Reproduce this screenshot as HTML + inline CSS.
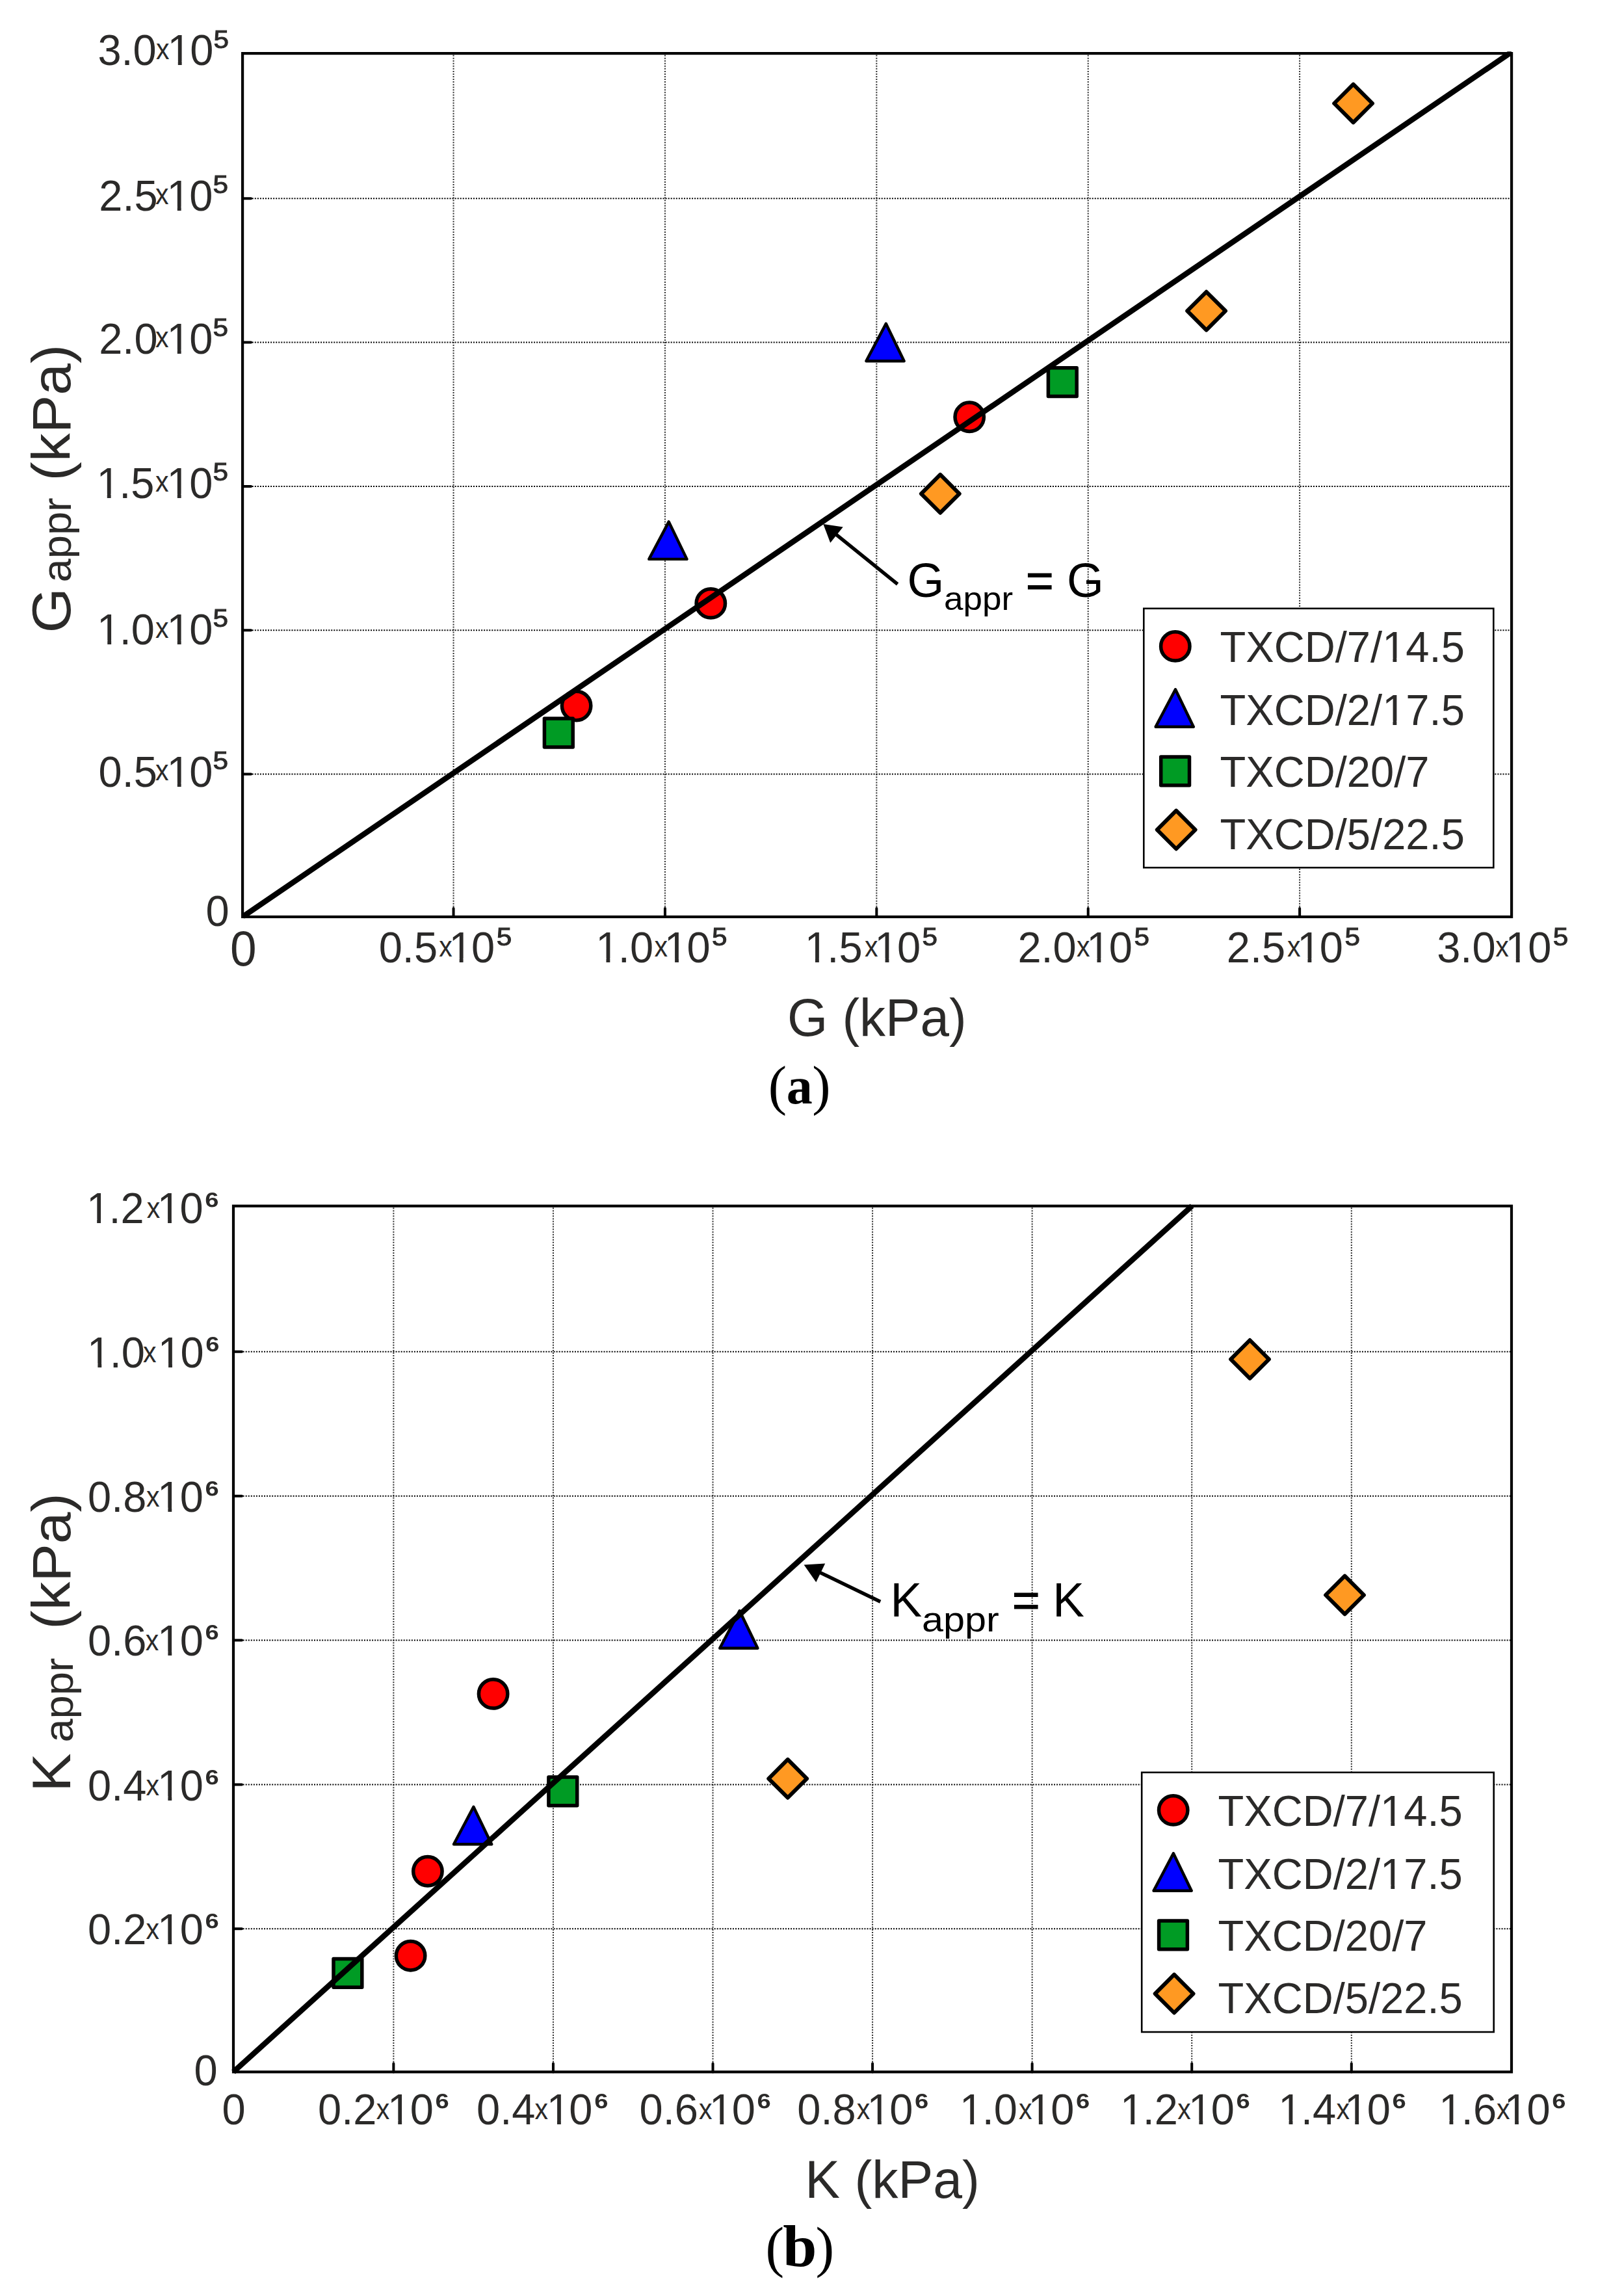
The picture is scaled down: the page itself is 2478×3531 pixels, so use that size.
<!DOCTYPE html>
<html lang="en"><head><meta charset="utf-8"><title>Figure: G and K approximations</title>
<style>
html,body{margin:0;padding:0;background:#fff}
svg{display:block}
text{font-family:"Liberation Sans",sans-serif;white-space:pre}
text.sf{font-family:"Liberation Serif",serif}
</style></head>
<body>
<svg width="2478" height="3531" viewBox="0 0 2478 3531">
<rect width="2478" height="3531" fill="#fff"/>
<path d="M697.55 84.6V1409.0M1022.94 84.6V1409.0M1348.33 84.6V1409.0M1673.72 84.6V1409.0M1999.11 84.6V1409.0" stroke="#2e2e2e" stroke-width="2" stroke-dasharray="2 2.05" fill="none"/>
<path d="M375.6 305.23H2324.1M375.6 526.56H2324.1M375.6 747.89H2324.1M375.6 969.22H2324.1M375.6 1190.55H2324.1" stroke="#000" stroke-width="2" stroke-dasharray="2 2.05" fill="none"/>
<circle cx="886.6" cy="1085.5" r="22.2" fill="#FF0000" stroke="#000" stroke-width="5.5"/>
<circle cx="1093.3" cy="927.9" r="22.2" fill="#FF0000" stroke="#000" stroke-width="5.5"/>
<circle cx="1491.2" cy="641.3" r="22.2" fill="#FF0000" stroke="#000" stroke-width="5.5"/>
<path d="M1028.7 802.4L1056.5 859.9L998.3 859.9Z" fill="#0000FF" stroke="#000" stroke-width="4.4" stroke-linejoin="round"/>
<path d="M1362.8 497.8L1390.6 555.3L1332.4 555.3Z" fill="#0000FF" stroke="#000" stroke-width="4.4" stroke-linejoin="round"/>
<rect x="837.4" y="1105.1" width="43.8" height="43.8" fill="#009B24" stroke="#000" stroke-width="5.5" stroke-linejoin="round"/>
<rect x="1612.4" y="565.8" width="43.8" height="43.8" fill="#009B24" stroke="#000" stroke-width="5.5" stroke-linejoin="round"/>
<path d="M1446.3 729.9L1475.7 759.3L1446.3 788.7L1416.9 759.3Z" fill="#FF9922" stroke="#000" stroke-width="6.0" stroke-linejoin="round"/>
<path d="M1855.6 448.8L1885.0 478.2L1855.6 507.6L1826.2 478.2Z" fill="#FF9922" stroke="#000" stroke-width="6.0" stroke-linejoin="round"/>
<path d="M2081.6 129.6L2111.0 159.0L2081.6 188.4L2052.2 159.0Z" fill="#FF9922" stroke="#000" stroke-width="6.0" stroke-linejoin="round"/>
<clipPath id="ca"><rect x="371.0" y="79.3" width="1956.2" height="1332.9"/></clipPath>
<line x1="373.1" y1="1410.0" x2="2325.1" y2="79.89999999999999" stroke="#000" stroke-width="8.5" clip-path="url(#ca)"/>
<rect x="373.1" y="82.1" width="1952.0" height="1327.9" fill="none" stroke="#000" stroke-width="4.2"/>
<path d="M697.55 1410.0v-13M1022.94 1410.0v-13M1348.33 1410.0v-13M1673.72 1410.0v-13M1999.11 1410.0v-13M373.1 305.23h13M373.1 526.56h13M373.1 747.89h13M373.1 969.22h13M373.1 1190.55h13" stroke="#000" stroke-width="4" stroke-linecap="round" fill="none"/>
<line x1="1380.6" y1="898.3" x2="1283.8" y2="820.1" stroke="#000" stroke-width="5.4"/>
<path d="M1266.3 806.0L1296.7 810.6L1277.2 834.7Z" fill="#000"/>
<g><text transform="translate(1395.50,917.70) scale(1.0,1.015)" font-size="73" fill="#000">G</text><text transform="translate(1452.00,938.20) scale(1.0,0.93)" font-size="53" fill="#000">appr</text> <text transform="translate(1578.00,917.70) scale(1.0,1.015)" font-size="73" fill="#000" stroke="#000" stroke-width="1.2">=</text> <text transform="translate(1640.90,917.70) scale(1.0,1.015)" font-size="73" fill="#000">G</text></g>
<rect x="1759.3" y="935.8" width="538" height="398.5" fill="#fff" stroke="#000" stroke-width="2.6"/>
<circle cx="1807.8" cy="993.9" r="22.2" fill="#FF0000" stroke="#000" stroke-width="5.5"/>
<path d="M1808.0 1060.3L1835.8 1117.8L1777.6 1117.8Z" fill="#0000FF" stroke="#000" stroke-width="4.4" stroke-linejoin="round"/>
<rect x="1785.7" y="1163.9" width="43.8" height="43.8" fill="#009B24" stroke="#000" stroke-width="5.5" stroke-linejoin="round"/>
<path d="M1809.2 1246.7L1838.6 1276.1L1809.2 1305.5L1779.8 1276.1Z" fill="#FF9922" stroke="#000" stroke-width="6.0" stroke-linejoin="round"/>
<text transform="translate(1876.60,1018.00) scale(1.0,1.015)" font-size="65.1" fill="#2B2A29">TXCD/7/14.5</text>
<text transform="translate(1876.60,1114.50) scale(1.0,1.015)" font-size="65.1" fill="#2B2A29">TXCD/2/17.5</text>
<text transform="translate(1876.60,1210.00) scale(1.0,1.015)" font-size="65.1" fill="#2B2A29">TXCD/20/7</text>
<text transform="translate(1876.60,1306.00) scale(1.0,1.015)" font-size="65.1" fill="#2B2A29">TXCD/5/22.5</text>
<g><text transform="translate(150.40,100.30) scale(1.0,1.015)" font-size="65" fill="#2B2A29">3.0</text><text transform="translate(240.00,90.80) scale(1.0,1.08)" font-size="41" fill="#2B2A29">x</text><text transform="translate(257.50,100.30) scale(1.0,1.015)" font-size="65" fill="#2B2A29">1</text><text transform="translate(292.14,100.30) scale(1.0,1.015)" font-size="65" fill="#2B2A29">0</text><text transform="translate(326.78,90.70)" font-size="66.5" fill="#2B2A29" stroke="#2B2A29" stroke-width="1.1">⁵</text></g>
<g><text transform="translate(152.30,323.90) scale(1.0,1.015)" font-size="65" fill="#2B2A29">2.5</text><text transform="translate(239.00,314.40) scale(1.0,1.08)" font-size="41" fill="#2B2A29">x</text><text transform="translate(256.50,323.90) scale(1.0,1.015)" font-size="65" fill="#2B2A29">1</text><text transform="translate(291.14,323.90) scale(1.0,1.015)" font-size="65" fill="#2B2A29">0</text><text transform="translate(325.78,314.30)" font-size="66.5" fill="#2B2A29" stroke="#2B2A29" stroke-width="1.1">⁵</text></g>
<g><text transform="translate(152.20,543.90) scale(1.0,1.015)" font-size="65" fill="#2B2A29">2.0</text><text transform="translate(239.00,534.40) scale(1.0,1.08)" font-size="41" fill="#2B2A29">x</text><text transform="translate(256.50,543.90) scale(1.0,1.015)" font-size="65" fill="#2B2A29">1</text><text transform="translate(291.14,543.90) scale(1.0,1.015)" font-size="65" fill="#2B2A29">0</text><text transform="translate(325.78,534.30)" font-size="66.5" fill="#2B2A29" stroke="#2B2A29" stroke-width="1.1">⁵</text></g>
<g><text transform="translate(148.50,765.60) scale(1.0,1.015)" font-size="65" fill="#2B2A29">1</text><text transform="translate(183.14,765.60) scale(1.0,1.015)" font-size="65" fill="#2B2A29">.5</text><text transform="translate(239.00,756.10) scale(1.0,1.08)" font-size="41" fill="#2B2A29">x</text><text transform="translate(256.50,765.60) scale(1.0,1.015)" font-size="65" fill="#2B2A29">1</text><text transform="translate(291.14,765.60) scale(1.0,1.015)" font-size="65" fill="#2B2A29">0</text><text transform="translate(325.78,756.00)" font-size="66.5" fill="#2B2A29" stroke="#2B2A29" stroke-width="1.1">⁵</text></g>
<g><text transform="translate(149.00,990.90) scale(1.0,1.015)" font-size="65" fill="#2B2A29">1</text><text transform="translate(183.64,990.90) scale(1.0,1.015)" font-size="65" fill="#2B2A29">.0</text><text transform="translate(239.00,981.40) scale(1.0,1.08)" font-size="41" fill="#2B2A29">x</text><text transform="translate(256.50,990.90) scale(1.0,1.015)" font-size="65" fill="#2B2A29">1</text><text transform="translate(291.14,990.90) scale(1.0,1.015)" font-size="65" fill="#2B2A29">0</text><text transform="translate(325.78,981.30)" font-size="66.5" fill="#2B2A29" stroke="#2B2A29" stroke-width="1.1">⁵</text></g>
<g><text transform="translate(151.50,1209.80) scale(1.0,1.015)" font-size="65" fill="#2B2A29">0.5</text><text transform="translate(239.00,1200.30) scale(1.0,1.08)" font-size="41" fill="#2B2A29">x</text><text transform="translate(256.50,1209.80) scale(1.0,1.015)" font-size="65" fill="#2B2A29">1</text><text transform="translate(291.14,1209.80) scale(1.0,1.015)" font-size="65" fill="#2B2A29">0</text><text transform="translate(325.78,1200.20)" font-size="66.5" fill="#2B2A29" stroke="#2B2A29" stroke-width="1.1">⁵</text></g>
<text transform="translate(316.60,1424.40) scale(1.0,1.015)" font-size="65" fill="#2B2A29">0</text>
<g><text transform="translate(582.70,1480.10) scale(1.0,1.015)" font-size="65" fill="#2B2A29">0.5</text><text transform="translate(675.20,1470.60) scale(1.0,1.08)" font-size="41" fill="#2B2A29">x</text><text transform="translate(690.40,1480.10) scale(1.0,1.015)" font-size="65" fill="#2B2A29">1</text><text transform="translate(725.04,1480.10) scale(1.0,1.015)" font-size="65" fill="#2B2A29">0</text><text transform="translate(761.88,1470.50)" font-size="66.5" fill="#2B2A29" stroke="#2B2A29" stroke-width="1.1">⁵</text></g>
<g><text transform="translate(916.20,1480.10) scale(1.0,1.015)" font-size="65" fill="#2B2A29">1</text><text transform="translate(950.84,1480.10) scale(1.0,1.015)" font-size="65" fill="#2B2A29">.0</text><text transform="translate(1006.60,1470.60) scale(1.0,1.08)" font-size="41" fill="#2B2A29">x</text><text transform="translate(1021.80,1480.10) scale(1.0,1.015)" font-size="65" fill="#2B2A29">1</text><text transform="translate(1056.44,1480.10) scale(1.0,1.015)" font-size="65" fill="#2B2A29">0</text><text transform="translate(1093.28,1470.50)" font-size="66.5" fill="#2B2A29" stroke="#2B2A29" stroke-width="1.1">⁵</text></g>
<g><text transform="translate(1237.70,1480.10) scale(1.0,1.015)" font-size="65" fill="#2B2A29">1</text><text transform="translate(1272.34,1480.10) scale(1.0,1.015)" font-size="65" fill="#2B2A29">.5</text><text transform="translate(1330.10,1470.60) scale(1.0,1.08)" font-size="41" fill="#2B2A29">x</text><text transform="translate(1345.30,1480.10) scale(1.0,1.015)" font-size="65" fill="#2B2A29">1</text><text transform="translate(1379.94,1480.10) scale(1.0,1.015)" font-size="65" fill="#2B2A29">0</text><text transform="translate(1416.78,1470.50)" font-size="66.5" fill="#2B2A29" stroke="#2B2A29" stroke-width="1.1">⁵</text></g>
<g><text transform="translate(1565.40,1480.10) scale(1.0,1.015)" font-size="65" fill="#2B2A29">2.0</text><text transform="translate(1656.00,1470.60) scale(1.0,1.08)" font-size="41" fill="#2B2A29">x</text><text transform="translate(1671.20,1480.10) scale(1.0,1.015)" font-size="65" fill="#2B2A29">1</text><text transform="translate(1705.84,1480.10) scale(1.0,1.015)" font-size="65" fill="#2B2A29">0</text><text transform="translate(1742.68,1470.50)" font-size="66.5" fill="#2B2A29" stroke="#2B2A29" stroke-width="1.1">⁵</text></g>
<g><text transform="translate(1886.80,1480.10) scale(1.0,1.015)" font-size="65" fill="#2B2A29">2.5</text><text transform="translate(1980.00,1470.60) scale(1.0,1.08)" font-size="41" fill="#2B2A29">x</text><text transform="translate(1995.20,1480.10) scale(1.0,1.015)" font-size="65" fill="#2B2A29">1</text><text transform="translate(2029.84,1480.10) scale(1.0,1.015)" font-size="65" fill="#2B2A29">0</text><text transform="translate(2066.68,1470.50)" font-size="66.5" fill="#2B2A29" stroke="#2B2A29" stroke-width="1.1">⁵</text></g>
<g><text transform="translate(2210.20,1480.10) scale(1.0,1.015)" font-size="65" fill="#2B2A29">3.0</text><text transform="translate(2300.30,1470.60) scale(1.0,1.08)" font-size="41" fill="#2B2A29">x</text><text transform="translate(2315.50,1480.10) scale(1.0,1.015)" font-size="65" fill="#2B2A29">1</text><text transform="translate(2350.14,1480.10) scale(1.0,1.015)" font-size="65" fill="#2B2A29">0</text><text transform="translate(2386.98,1470.50)" font-size="66.5" fill="#2B2A29" stroke="#2B2A29" stroke-width="1.1">⁵</text></g>
<text transform="translate(353.90,1484.80) scale(1.0,1.04)" font-size="73" fill="#2B2A29">0</text>
<text transform="translate(1211.00,1593.30) scale(1.0,1.015)" font-size="80" fill="#2B2A29">G (kPa)</text>
<g><text transform="translate(107.50,973.50) rotate(-90) scale(1.09,1.015)" font-size="82" fill="#2B2A29">G</text><text transform="translate(109.30,895.40) rotate(-90) scale(1.0,0.96)" font-size="65" fill="#2B2A29">appr</text> <text transform="translate(107.50,739.40) rotate(-90) scale(1.07,1.015)" font-size="82" fill="#2B2A29">(kPa)</text></g>
<g><text transform="translate(1181.70,1697.50)" font-size="85" fill="#000" class="sf">(</text><text transform="translate(1209.80,1697.30)" font-size="80" fill="#000" font-weight="bold" class="sf">a</text><text transform="translate(1249.20,1697.50)" font-size="85" fill="#000" class="sf">)</text></g>
<path d="M605.36 1857.2V3185.4M850.94 1857.2V3185.4M1096.51 1857.2V3185.4M1342.08 1857.2V3185.4M1587.65 1857.2V3185.4M1833.23 1857.2V3185.4M2078.80 1857.2V3185.4" stroke="#2e2e2e" stroke-width="2" stroke-dasharray="2 2.05" fill="none"/>
<path d="M361.5 2078.85H2324.0M361.5 2300.70H2324.0M361.5 2522.55H2324.0M361.5 2744.40H2324.0M361.5 2966.25H2324.0" stroke="#000" stroke-width="2" stroke-dasharray="2 2.05" fill="none"/>
<circle cx="758.6" cy="2604.9" r="22.2" fill="#FF0000" stroke="#000" stroke-width="5.5"/>
<circle cx="657.9" cy="2877.8" r="22.2" fill="#FF0000" stroke="#000" stroke-width="5.5"/>
<circle cx="631.6" cy="3007.7" r="22.2" fill="#FF0000" stroke="#000" stroke-width="5.5"/>
<path d="M728.4 2778.8L756.2 2836.3L698.0 2836.3Z" fill="#0000FF" stroke="#000" stroke-width="4.4" stroke-linejoin="round"/>
<path d="M1137.6 2477.3L1165.4 2534.8L1107.2 2534.8Z" fill="#0000FF" stroke="#000" stroke-width="4.4" stroke-linejoin="round"/>
<rect x="513.0" y="3012.4" width="43.8" height="43.8" fill="#009B24" stroke="#000" stroke-width="5.5" stroke-linejoin="round"/>
<rect x="843.9" y="2732.9" width="43.8" height="43.8" fill="#009B24" stroke="#000" stroke-width="5.5" stroke-linejoin="round"/>
<path d="M1211.7 2705.9L1241.1 2735.3L1211.7 2764.7L1182.3 2735.3Z" fill="#FF9922" stroke="#000" stroke-width="6.0" stroke-linejoin="round"/>
<path d="M1922.5 2061.0L1951.9 2090.4L1922.5 2119.8L1893.1 2090.4Z" fill="#FF9922" stroke="#000" stroke-width="6.0" stroke-linejoin="round"/>
<path d="M2068.5 2423.6L2097.9 2453.0L2068.5 2482.4L2039.1 2453.0Z" fill="#FF9922" stroke="#000" stroke-width="6.0" stroke-linejoin="round"/>
<line x1="359.0" y1="3186.4" x2="1833.5" y2="1854.7" stroke="#000" stroke-width="8.5"/>
<rect x="359.0" y="1854.7" width="1966.0" height="1331.7" fill="none" stroke="#000" stroke-width="4.2"/>
<path d="M605.36 3186.4v-13M850.94 3186.4v-13M1096.51 3186.4v-13M1342.08 3186.4v-13M1587.65 3186.4v-13M1833.23 3186.4v-13M2078.80 3186.4v-13M359.0 2078.85h13M359.0 2300.70h13M359.0 2522.55h13M359.0 2744.40h13M359.0 2966.25h13" stroke="#000" stroke-width="4" stroke-linecap="round" fill="none"/>
<line x1="1354.2" y1="2463.3" x2="1258.7" y2="2417.1" stroke="#000" stroke-width="5.4"/>
<path d="M1236.6 2406.4L1269.2 2404.4L1255.3 2433.2Z" fill="#000"/>
<g><text transform="translate(1369.40,2485.80) scale(1.0,1.015)" font-size="73" fill="#000">K</text><text transform="translate(1417.90,2509.00) scale(1.08,0.97)" font-size="55" fill="#000">appr</text> <text transform="translate(1557.00,2485.80) scale(1.0,1.015)" font-size="73" fill="#000" stroke="#000" stroke-width="1.2">=</text> <text transform="translate(1619.20,2485.80) scale(1.0,1.015)" font-size="73" fill="#000">K</text></g>
<rect x="1756.2" y="2725.8" width="541.5" height="399.2" fill="#fff" stroke="#000" stroke-width="2.6"/>
<circle cx="1804.7" cy="2783.9" r="22.2" fill="#FF0000" stroke="#000" stroke-width="5.5"/>
<path d="M1804.9 2850.3L1832.7 2907.8L1774.5 2907.8Z" fill="#0000FF" stroke="#000" stroke-width="4.4" stroke-linejoin="round"/>
<rect x="1782.6" y="2953.9" width="43.8" height="43.8" fill="#009B24" stroke="#000" stroke-width="5.5" stroke-linejoin="round"/>
<path d="M1806.1 3036.7L1835.5 3066.1L1806.1 3095.5L1776.7 3066.1Z" fill="#FF9922" stroke="#000" stroke-width="6.0" stroke-linejoin="round"/>
<text transform="translate(1873.50,2808.00) scale(1.0,1.015)" font-size="65.1" fill="#2B2A29">TXCD/7/14.5</text>
<text transform="translate(1873.50,2904.50) scale(1.0,1.015)" font-size="65.1" fill="#2B2A29">TXCD/2/17.5</text>
<text transform="translate(1873.50,3000.00) scale(1.0,1.015)" font-size="65.1" fill="#2B2A29">TXCD/20/7</text>
<text transform="translate(1873.50,3096.00) scale(1.0,1.015)" font-size="65.1" fill="#2B2A29">TXCD/5/22.5</text>
<g><text transform="translate(132.90,1881.10) scale(1.0,1.015)" font-size="65" fill="#2B2A29">1</text><text transform="translate(167.54,1881.10) scale(1.0,1.015)" font-size="65" fill="#2B2A29">.2</text><text transform="translate(225.80,1873.10) scale(1.0,1.08)" font-size="41" fill="#2B2A29">x</text><text transform="translate(241.80,1881.10) scale(1.0,1.015)" font-size="65" fill="#2B2A29">1</text><text transform="translate(276.44,1881.10) scale(1.0,1.015)" font-size="65" fill="#2B2A29">0</text><text transform="translate(313.48,1873.40) scale(1.0,1.16)" font-size="54" fill="#2B2A29" font-weight="bold">⁶</text></g>
<g><text transform="translate(134.10,2103.00) scale(1.0,1.015)" font-size="65" fill="#2B2A29">1</text><text transform="translate(168.74,2103.00) scale(1.0,1.015)" font-size="65" fill="#2B2A29">.0</text><text transform="translate(219.90,2095.00) scale(1.0,1.08)" font-size="41" fill="#2B2A29">x</text><text transform="translate(242.80,2103.00) scale(1.0,1.015)" font-size="65" fill="#2B2A29">1</text><text transform="translate(277.44,2103.00) scale(1.0,1.015)" font-size="65" fill="#2B2A29">0</text><text transform="translate(314.48,2095.30) scale(1.0,1.16)" font-size="54" fill="#2B2A29" font-weight="bold">⁶</text></g>
<g><text transform="translate(135.10,2324.80) scale(1.0,1.015)" font-size="65" fill="#2B2A29">0.8</text><text transform="translate(224.90,2316.80) scale(1.0,1.08)" font-size="41" fill="#2B2A29">x</text><text transform="translate(242.10,2324.80) scale(1.0,1.015)" font-size="65" fill="#2B2A29">1</text><text transform="translate(276.74,2324.80) scale(1.0,1.015)" font-size="65" fill="#2B2A29">0</text><text transform="translate(313.78,2317.10) scale(1.0,1.16)" font-size="54" fill="#2B2A29" font-weight="bold">⁶</text></g>
<g><text transform="translate(135.10,2545.80) scale(1.0,1.015)" font-size="65" fill="#2B2A29">0.6</text><text transform="translate(223.70,2537.80) scale(1.0,1.08)" font-size="41" fill="#2B2A29">x</text><text transform="translate(242.10,2545.80) scale(1.0,1.015)" font-size="65" fill="#2B2A29">1</text><text transform="translate(276.74,2545.80) scale(1.0,1.015)" font-size="65" fill="#2B2A29">0</text><text transform="translate(313.78,2538.10) scale(1.0,1.16)" font-size="54" fill="#2B2A29" font-weight="bold">⁶</text></g>
<g><text transform="translate(135.10,2768.50) scale(1.0,1.015)" font-size="65" fill="#2B2A29">0.4</text><text transform="translate(224.60,2760.50) scale(1.0,1.08)" font-size="41" fill="#2B2A29">x</text><text transform="translate(242.10,2768.50) scale(1.0,1.015)" font-size="65" fill="#2B2A29">1</text><text transform="translate(276.74,2768.50) scale(1.0,1.015)" font-size="65" fill="#2B2A29">0</text><text transform="translate(313.78,2760.80) scale(1.0,1.16)" font-size="54" fill="#2B2A29" font-weight="bold">⁶</text></g>
<g><text transform="translate(135.10,2990.00) scale(1.0,1.015)" font-size="65" fill="#2B2A29">0.2</text><text transform="translate(224.60,2982.00) scale(1.0,1.08)" font-size="41" fill="#2B2A29">x</text><text transform="translate(242.10,2990.00) scale(1.0,1.015)" font-size="65" fill="#2B2A29">1</text><text transform="translate(276.74,2990.00) scale(1.0,1.015)" font-size="65" fill="#2B2A29">0</text><text transform="translate(313.78,2982.30) scale(1.0,1.16)" font-size="54" fill="#2B2A29" font-weight="bold">⁶</text></g>
<text transform="translate(298.50,3206.80) scale(1.0,1.015)" font-size="65" fill="#2B2A29">0</text>
<g><text transform="translate(489.10,3266.60) scale(1.0,1.015)" font-size="65" fill="#2B2A29">0.2</text><text transform="translate(578.70,3258.60) scale(1.0,1.08)" font-size="41" fill="#2B2A29">x</text><text transform="translate(596.00,3266.60) scale(1.0,1.015)" font-size="65" fill="#2B2A29">1</text><text transform="translate(630.64,3266.60) scale(1.0,1.015)" font-size="65" fill="#2B2A29">0</text><text transform="translate(667.68,3258.90) scale(1.0,1.16)" font-size="54" fill="#2B2A29" font-weight="bold">⁶</text></g>
<g><text transform="translate(733.00,3266.60) scale(1.0,1.015)" font-size="65" fill="#2B2A29">0.4</text><text transform="translate(822.60,3258.60) scale(1.0,1.08)" font-size="41" fill="#2B2A29">x</text><text transform="translate(840.70,3266.60) scale(1.0,1.015)" font-size="65" fill="#2B2A29">1</text><text transform="translate(875.34,3266.60) scale(1.0,1.015)" font-size="65" fill="#2B2A29">0</text><text transform="translate(912.38,3258.90) scale(1.0,1.16)" font-size="54" fill="#2B2A29" font-weight="bold">⁶</text></g>
<g><text transform="translate(983.50,3266.60) scale(1.0,1.015)" font-size="65" fill="#2B2A29">0.6</text><text transform="translate(1075.00,3258.60) scale(1.0,1.08)" font-size="41" fill="#2B2A29">x</text><text transform="translate(1091.10,3266.60) scale(1.0,1.015)" font-size="65" fill="#2B2A29">1</text><text transform="translate(1125.74,3266.60) scale(1.0,1.015)" font-size="65" fill="#2B2A29">0</text><text transform="translate(1162.78,3258.90) scale(1.0,1.16)" font-size="54" fill="#2B2A29" font-weight="bold">⁶</text></g>
<g><text transform="translate(1226.30,3266.60) scale(1.0,1.015)" font-size="65" fill="#2B2A29">0.8</text><text transform="translate(1317.80,3258.60) scale(1.0,1.08)" font-size="41" fill="#2B2A29">x</text><text transform="translate(1333.60,3266.60) scale(1.0,1.015)" font-size="65" fill="#2B2A29">1</text><text transform="translate(1368.24,3266.60) scale(1.0,1.015)" font-size="65" fill="#2B2A29">0</text><text transform="translate(1405.28,3258.90) scale(1.0,1.16)" font-size="54" fill="#2B2A29" font-weight="bold">⁶</text></g>
<g><text transform="translate(1476.00,3266.60) scale(1.0,1.015)" font-size="65" fill="#2B2A29">1</text><text transform="translate(1510.64,3266.60) scale(1.0,1.015)" font-size="65" fill="#2B2A29">.0</text><text transform="translate(1566.90,3258.60) scale(1.0,1.08)" font-size="41" fill="#2B2A29">x</text><text transform="translate(1581.60,3266.60) scale(1.0,1.015)" font-size="65" fill="#2B2A29">1</text><text transform="translate(1616.24,3266.60) scale(1.0,1.015)" font-size="65" fill="#2B2A29">0</text><text transform="translate(1653.28,3258.90) scale(1.0,1.16)" font-size="54" fill="#2B2A29" font-weight="bold">⁶</text></g>
<g><text transform="translate(1723.00,3266.60) scale(1.0,1.015)" font-size="65" fill="#2B2A29">1</text><text transform="translate(1757.64,3266.60) scale(1.0,1.015)" font-size="65" fill="#2B2A29">.2</text><text transform="translate(1811.20,3258.60) scale(1.0,1.08)" font-size="41" fill="#2B2A29">x</text><text transform="translate(1828.10,3266.60) scale(1.0,1.015)" font-size="65" fill="#2B2A29">1</text><text transform="translate(1862.74,3266.60) scale(1.0,1.015)" font-size="65" fill="#2B2A29">0</text><text transform="translate(1899.78,3258.90) scale(1.0,1.16)" font-size="54" fill="#2B2A29" font-weight="bold">⁶</text></g>
<g><text transform="translate(1966.30,3266.60) scale(1.0,1.015)" font-size="65" fill="#2B2A29">1</text><text transform="translate(2000.94,3266.60) scale(1.0,1.015)" font-size="65" fill="#2B2A29">.4</text><text transform="translate(2055.50,3258.60) scale(1.0,1.08)" font-size="41" fill="#2B2A29">x</text><text transform="translate(2068.00,3266.60) scale(1.0,1.015)" font-size="65" fill="#2B2A29">1</text><text transform="translate(2102.64,3266.60) scale(1.0,1.015)" font-size="65" fill="#2B2A29">0</text><text transform="translate(2139.68,3258.90) scale(1.0,1.16)" font-size="54" fill="#2B2A29" font-weight="bold">⁶</text></g>
<g><text transform="translate(2213.20,3266.60) scale(1.0,1.015)" font-size="65" fill="#2B2A29">1</text><text transform="translate(2247.84,3266.60) scale(1.0,1.015)" font-size="65" fill="#2B2A29">.6</text><text transform="translate(2302.10,3258.60) scale(1.0,1.08)" font-size="41" fill="#2B2A29">x</text><text transform="translate(2313.80,3266.60) scale(1.0,1.015)" font-size="65" fill="#2B2A29">1</text><text transform="translate(2348.44,3266.60) scale(1.0,1.015)" font-size="65" fill="#2B2A29">0</text><text transform="translate(2385.48,3258.90) scale(1.0,1.16)" font-size="54" fill="#2B2A29" font-weight="bold">⁶</text></g>
<text transform="translate(341.50,3267.00) scale(1.0,1.015)" font-size="65" fill="#2B2A29">0</text>
<text transform="translate(1238.30,3379.80) scale(1.0,1.015)" font-size="80.6" fill="#2B2A29">K (kPa)</text>
<g><text transform="translate(108.20,2755.70) rotate(-90) scale(1.09,1.015)" font-size="82" fill="#2B2A29">K</text><text transform="translate(111.70,2679.60) rotate(-90) scale(1.0,0.96)" font-size="65" fill="#2B2A29">appr</text> <text transform="translate(107.50,2505.80) rotate(-90) scale(1.07,1.015)" font-size="82" fill="#2B2A29">(kPa)</text></g>
<g><text transform="translate(1177.50,3484.50)" font-size="86" fill="#000" class="sf">(</text><text transform="translate(1204.30,3485.10) scale(1.03,1.0)" font-size="91" fill="#000" font-weight="bold" class="sf">b</text><text transform="translate(1254.50,3484.50)" font-size="86" fill="#000" class="sf">)</text></g>
<g fill="#fff"><rect x="2130.10" y="1012.06" width="12.36" height="6.94"/><rect x="2148.32" y="1012.06" width="11.85" height="6.94"/><rect x="2130.10" y="1108.56" width="12.36" height="6.94"/><rect x="2148.32" y="1108.56" width="11.85" height="6.94"/><rect x="261.45" y="94.37" width="12.34" height="6.93"/><rect x="279.64" y="94.37" width="11.84" height="6.93"/><rect x="260.45" y="317.97" width="12.34" height="6.93"/><rect x="278.64" y="317.97" width="11.84" height="6.93"/><rect x="260.45" y="537.97" width="12.34" height="6.93"/><rect x="278.64" y="537.97" width="11.84" height="6.93"/><rect x="152.45" y="759.67" width="12.34" height="6.93"/><rect x="170.64" y="759.67" width="11.84" height="6.93"/><rect x="260.45" y="759.67" width="12.34" height="6.93"/><rect x="278.64" y="759.67" width="11.84" height="6.93"/><rect x="152.95" y="984.97" width="12.34" height="6.93"/><rect x="171.14" y="984.97" width="11.84" height="6.93"/><rect x="260.45" y="984.97" width="12.34" height="6.93"/><rect x="278.64" y="984.97" width="11.84" height="6.93"/><rect x="260.45" y="1203.87" width="12.34" height="6.93"/><rect x="278.64" y="1203.87" width="11.84" height="6.93"/><rect x="694.35" y="1474.17" width="12.34" height="6.93"/><rect x="712.54" y="1474.17" width="11.84" height="6.93"/><rect x="920.15" y="1474.17" width="12.34" height="6.93"/><rect x="938.34" y="1474.17" width="11.84" height="6.93"/><rect x="1025.75" y="1474.17" width="12.34" height="6.93"/><rect x="1043.94" y="1474.17" width="11.84" height="6.93"/><rect x="1241.65" y="1474.17" width="12.34" height="6.93"/><rect x="1259.84" y="1474.17" width="11.84" height="6.93"/><rect x="1349.25" y="1474.17" width="12.34" height="6.93"/><rect x="1367.44" y="1474.17" width="11.84" height="6.93"/><rect x="1675.15" y="1474.17" width="12.34" height="6.93"/><rect x="1693.34" y="1474.17" width="11.84" height="6.93"/><rect x="1999.15" y="1474.17" width="12.34" height="6.93"/><rect x="2017.34" y="1474.17" width="11.84" height="6.93"/><rect x="2319.45" y="1474.17" width="12.34" height="6.93"/><rect x="2337.64" y="1474.17" width="11.84" height="6.93"/><rect x="2127.00" y="2802.06" width="12.36" height="6.94"/><rect x="2145.22" y="2802.06" width="11.85" height="6.94"/><rect x="2127.00" y="2898.56" width="12.36" height="6.94"/><rect x="2145.22" y="2898.56" width="11.85" height="6.94"/><rect x="136.85" y="1875.17" width="12.34" height="6.93"/><rect x="155.04" y="1875.17" width="11.84" height="6.93"/><rect x="245.75" y="1875.17" width="12.34" height="6.93"/><rect x="263.94" y="1875.17" width="11.84" height="6.93"/><rect x="138.05" y="2097.07" width="12.34" height="6.93"/><rect x="156.24" y="2097.07" width="11.84" height="6.93"/><rect x="246.75" y="2097.07" width="12.34" height="6.93"/><rect x="264.94" y="2097.07" width="11.84" height="6.93"/><rect x="246.05" y="2318.87" width="12.34" height="6.93"/><rect x="264.24" y="2318.87" width="11.84" height="6.93"/><rect x="246.05" y="2539.87" width="12.34" height="6.93"/><rect x="264.24" y="2539.87" width="11.84" height="6.93"/><rect x="246.05" y="2762.57" width="12.34" height="6.93"/><rect x="264.24" y="2762.57" width="11.84" height="6.93"/><rect x="246.05" y="2984.07" width="12.34" height="6.93"/><rect x="264.24" y="2984.07" width="11.84" height="6.93"/><rect x="599.95" y="3260.67" width="12.34" height="6.93"/><rect x="618.14" y="3260.67" width="11.84" height="6.93"/><rect x="844.65" y="3260.67" width="12.34" height="6.93"/><rect x="862.84" y="3260.67" width="11.84" height="6.93"/><rect x="1095.05" y="3260.67" width="12.34" height="6.93"/><rect x="1113.24" y="3260.67" width="11.84" height="6.93"/><rect x="1337.55" y="3260.67" width="12.34" height="6.93"/><rect x="1355.74" y="3260.67" width="11.84" height="6.93"/><rect x="1479.95" y="3260.67" width="12.34" height="6.93"/><rect x="1498.14" y="3260.67" width="11.84" height="6.93"/><rect x="1585.55" y="3260.67" width="12.34" height="6.93"/><rect x="1603.74" y="3260.67" width="11.84" height="6.93"/><rect x="1726.95" y="3260.67" width="12.34" height="6.93"/><rect x="1745.14" y="3260.67" width="11.84" height="6.93"/><rect x="1832.05" y="3260.67" width="12.34" height="6.93"/><rect x="1850.24" y="3260.67" width="11.84" height="6.93"/><rect x="1970.25" y="3260.67" width="12.34" height="6.93"/><rect x="1988.44" y="3260.67" width="11.84" height="6.93"/><rect x="2071.95" y="3260.67" width="12.34" height="6.93"/><rect x="2090.14" y="3260.67" width="11.84" height="6.93"/><rect x="2217.15" y="3260.67" width="12.34" height="6.93"/><rect x="2235.34" y="3260.67" width="11.84" height="6.93"/><rect x="2317.75" y="3260.67" width="12.34" height="6.93"/><rect x="2335.94" y="3260.67" width="11.84" height="6.93"/></g>
</svg>
</body></html>
